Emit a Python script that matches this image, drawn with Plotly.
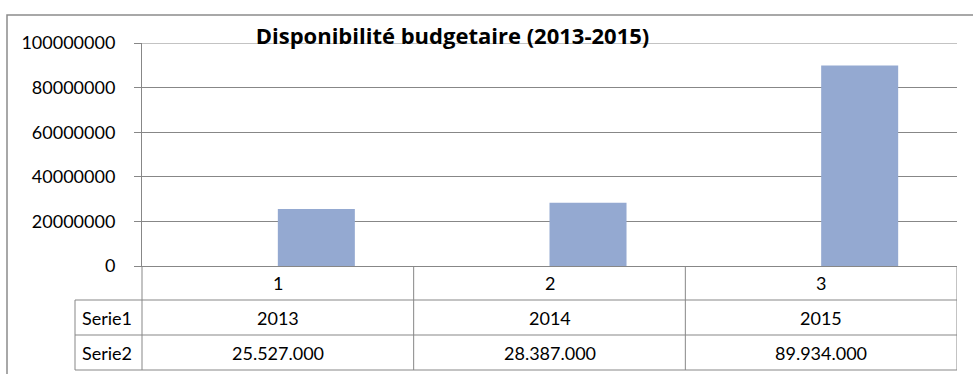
import plotly.graph_objects as go

# Data
categories = ["1", "2", "3"]
serie1_values = [2013, 2014, 2015]
serie2_values = [25527000, 28387000, 89934000]
serie2_labels = ["25.527.000", "28.387.000", "89.934.000"]
row_names = ["Serie1", "Serie2"]
y_ticks = [0, 20000000, 40000000, 60000000, 80000000, 100000000]
title_text = "Disponibilité budgetaire (2013-2015)"

W, H = 973, 374
L, R, T, B = 142, 16, 43, 108
PW, PH = W - L - R, H - T - B
FONT = "Lato"
GRID = "#878787"
BAR = "#94A9D1"


def px(xp):
    return (xp - L) / PW


def py(yp):
    return (T + PH - yp) / PH


xs = list(range(len(categories)))

fig = go.Figure()
fig.add_trace(go.Bar(x=xs, y=serie1_values, name=row_names[0],
                     marker=dict(color="#4F81BD", line=dict(width=0))))
fig.add_trace(go.Bar(x=xs, y=serie2_values, name=row_names[1],
                     marker=dict(color=BAR, line=dict(width=0))))

shapes = []
line = dict(color=GRID, width=1)
# outer chart frame
shapes.append(dict(type="rect", xref="paper", yref="paper",
                   x0=px(7), x1=px(1010), y0=py(420), y1=py(15),
                   line=dict(color="#8C8C8C", width=1.5), layer="below"))
# gridline at the top of the value range
shapes.append(dict(type="line", xref="paper", yref="y",
                   x0=0, x1=1, y0=y_ticks[-1], y1=y_ticks[-1],
                   line=line, layer="below"))
# data table rows
for yb in [300, 335, 370]:
    shapes.append(dict(type="line", xref="paper", yref="paper",
                       x0=px(75), x1=1, y0=py(yb), y1=py(yb), line=line))
# left border of row-name column
shapes.append(dict(type="line", xref="paper", yref="paper",
                   x0=px(75), x1=px(75), y0=py(300), y1=py(370), line=line))
# axis continuation down through the table
shapes.append(dict(type="line", xref="paper", yref="paper",
                   x0=0, x1=0, y0=py(370), y1=0, line=line))
# column dividers between categories and right edge
for i in range(len(categories)):
    shapes.append(dict(type="line", xref="x", yref="paper",
                       x0=xs[i] + 0.5, x1=xs[i] + 0.5, y0=py(370), y1=0,
                       line=line))

annotations = []
row_centers = [317.5, 352.5]
row_values = [[str(v) for v in serie1_values], serie2_labels]
for r, name in enumerate(row_names):
    annotations.append(dict(text=name, xref="paper", yref="paper",
                            x=px(80), y=py(row_centers[r]), xanchor="left",
                            yanchor="middle", showarrow=False,
                            font=dict(family=FONT, size=18, color="#000")))
    for i, val in enumerate(row_values[r]):
        annotations.append(dict(text=val, xref="x", yref="paper",
                                x=xs[i], y=py(row_centers[r]),
                                xanchor="center", yanchor="middle",
                                showarrow=False,
                                font=dict(family=FONT, size=18, color="#000")))
for i, c in enumerate(categories):
    annotations.append(dict(text=c, xref="x", yref="paper",
                            x=xs[i], y=py(283), xanchor="center",
                            yanchor="middle", showarrow=False,
                            font=dict(family=FONT, size=18, color="#000")))

fig.update_layout(
    width=W, height=H,
    margin=dict(l=L, r=R, t=T, b=B, pad=0),
    paper_bgcolor="white", plot_bgcolor="white",
    barmode="group", bargap=0.433, bargroupgap=0,
    showlegend=False,
    title=dict(text="<b>" + title_text + "</b>", x=452.5 / W, xanchor="center",
               xref="container", y=1 - 43 / H, yanchor="bottom", yref="container",
               font=dict(family="Open Sans", size=22, color="#000"),
               pad=dict(b=-1)),
    font=dict(family=FONT, size=18, color="#000"),
    shapes=shapes, annotations=annotations,
)
fig.update_xaxes(range=[-0.5, len(categories) - 0.5], showticklabels=False,
                 ticks="", showgrid=False, showline=True, linecolor=GRID,
                 linewidth=1, zeroline=False, fixedrange=True)
fig.update_yaxes(range=[0, 100000000], tickvals=y_ticks,
                 ticktext=[str(v) for v in y_ticks],
                 showgrid=True, gridcolor=GRID, gridwidth=1,
                 showline=True, linecolor=GRID, linewidth=1,
                 ticks="outside", ticklen=7, tickcolor=GRID, tickwidth=1,
                 ticklabelstandoff=15, zeroline=False,
                 tickfont=dict(family=FONT, size=18, color="#000"))

fig.write_html("out.html")
